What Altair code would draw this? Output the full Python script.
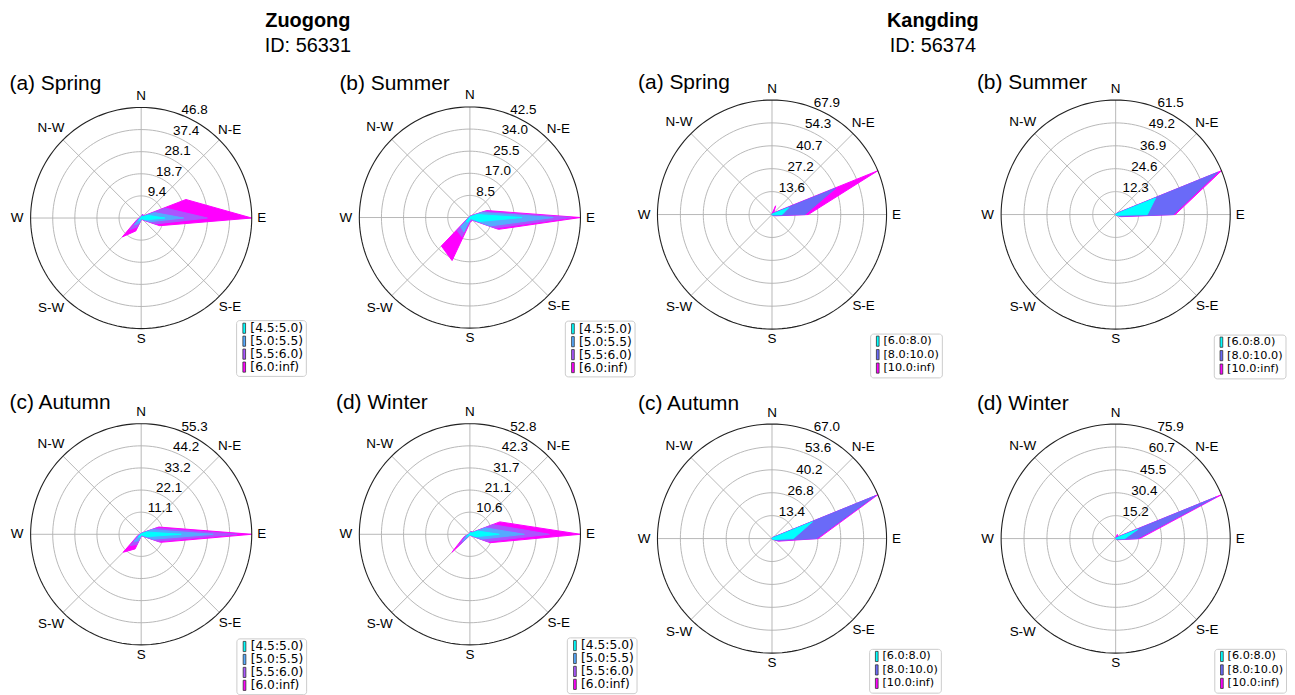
import math
import numpy as np
import pandas as pd
import altair as alt

FONT = "Liberation Sans"
LEGEND_FONT = "DejaVu Sans"

# ---------------- data ----------------
DIRS16 = ["N", "NNE", "NE", "ENE", "E", "ESE", "SE", "SSE",
          "S", "SSW", "SW", "WSW", "W", "WNW", "NW", "NNW"]
DIR_LABELS = ["N", "N-E", "E", "S-E", "S", "S-W", "W", "N-W"]
SEASONS = ["(a) Spring", "(b) Summer", "(c) Autumn", "(d) Winter"]
STATIONS = ["Zuogong", "Kangding"]
STATION_IDS = ["ID: 56331", "ID: 56374"]

ZG_BINS = ["[4.5:5.0)", "[5.0:5.5)", "[5.5:6.0)", "[6.0:inf)"]
KD_BINS = ["[6.0:8.0)", "[8.0:10.0)", "[10.0:inf)"]
ZG_COLORS = ["#00ffff", "#55aaff", "#aa55ff", "#ff00ff"]
KD_COLORS = ["#00ffff", "#6a6af8", "#ff00ff"]

# frequency (%) per speed bin, 16 directions N, NNE, ... NNW
ZG_SPRING = [
    [0.3, 0.8, 0.5, 3.0, 10.0, 2.0, 0.4, 0.2, 0.3, 1.0, 1.5, 0.5, 0.3, 0.1, 0.1, 0.1],
    [0.2, 0.4, 0.3, 3.0, 8.0, 2.0, 0.3, 0.1, 0.2, 1.5, 2.5, 0.5, 0.2, 0.1, 0.1, 0.1],
    [0.2, 0.3, 0.2, 5.0, 10.0, 2.5, 0.3, 0.1, 0.2, 1.5, 3.0, 0.5, 0.1, 0.1, 0.0, 0.1],
    [0.2, 0.3, 0.2, 9.5, 18.8, 2.0, 0.3, 0.1, 0.2, 1.9, 4.3, 0.5, 0.2, 0.0, 0.1, 0.0],
]
ZG_SUMMER = [
    [0.2, 0.3, 0.5, 3.0, 20.0, 4.0, 0.5, 0.5, 0.5, 2.0, 2.0, 0.3, 0.2, 0.1, 0.1, 0.1],
    [0.1, 0.2, 0.3, 2.0, 12.0, 4.5, 0.5, 0.5, 0.5, 4.0, 3.0, 0.2, 0.1, 0.1, 0.1, 0.1],
    [0.1, 0.1, 0.2, 1.0, 7.0, 2.0, 0.3, 0.3, 0.5, 2.0, 2.0, 0.2, 0.1, 0.0, 0.0, 0.1],
    [0.1, 0.1, 0.2, 1.0, 3.5, 1.4, 0.2, 0.2, 0.5, 9.9, 8.5, 0.3, 0.1, 0.0, 0.0, 0.0],
]
ZG_AUTUMN = [
    [0.2, 0.3, 0.5, 3.0, 20.0, 3.0, 0.5, 0.3, 0.3, 1.5, 2.0, 0.5, 0.3, 0.1, 0.1, 0.1],
    [0.1, 0.2, 0.3, 3.0, 16.0, 3.5, 0.5, 0.2, 0.3, 2.0, 3.0, 0.5, 0.2, 0.1, 0.1, 0.1],
    [0.1, 0.1, 0.2, 2.0, 12.0, 2.5, 0.3, 0.2, 0.2, 2.0, 3.0, 0.5, 0.2, 0.1, 0.0, 0.1],
    [0.1, 0.1, 0.2, 1.5, 7.3, 1.5, 0.2, 0.1, 0.2, 2.4, 4.7, 0.5, 0.1, 0.0, 0.1, 0.0],
]
ZG_WINTER = [
    [0.3, 1.0, 0.5, 4.0, 14.0, 3.0, 0.4, 0.2, 0.2, 0.3, 2.0, 1.0, 0.3, 0.1, 0.1, 0.1],
    [0.2, 0.3, 0.3, 4.0, 12.0, 3.0, 0.3, 0.1, 0.1, 0.2, 3.0, 1.0, 0.2, 0.1, 0.0, 0.1],
    [0.1, 0.2, 0.2, 4.0, 12.0, 3.0, 0.3, 0.1, 0.1, 0.3, 3.0, 0.5, 0.1, 0.0, 0.1, 0.0],
    [0.1, 0.2, 0.2, 3.5, 14.84, 1.5, 0.2, 0.1, 0.1, 0.2, 4.1, 0.5, 0.1, 0.1, 0.0, 0.1],
]
KD_SPRING = [
    [0.1, 0.3, 0.5, 10.7, 6.0, 0.5, 0.2, 0.1, 0.1, 0.1, 0.1, 0.1, 0.1, 0.1, 0.1, 0.1],
    [0.1, 0.5, 0.5, 30.3, 13.5, 1.0, 0.2, 0.1, 0.0, 0.0, 0.0, 0.0, 0.0, 0.0, 0.0, 0.0],
    [0.3, 4.8, 0.5, 26.9, 2.0, 0.5, 0.1, 0.0, 0.0, 0.0, 0.0, 0.0, 0.0, 0.0, 0.0, 0.0],
]
KD_SUMMER = [
    [0.1, 0.2, 0.5, 23.2, 17.0, 1.0, 0.2, 0.1, 0.1, 0.1, 0.1, 0.1, 0.1, 0.1, 0.1, 0.1],
    [0.1, 0.2, 0.5, 36.3, 14.0, 1.5, 0.2, 0.0, 0.0, 0.0, 0.0, 0.0, 0.0, 0.0, 0.0, 0.0],
    [0.1, 0.1, 0.2, 2.0, 1.0, 0.5, 0.1, 0.0, 0.0, 0.0, 0.0, 0.0, 0.0, 0.0, 0.0, 0.0],
]
KD_AUTUMN = [
    [0.1, 0.2, 0.5, 25.6, 12.5, 1.5, 0.3, 0.1, 0.1, 0.1, 0.1, 0.1, 0.1, 0.1, 0.1, 0.1],
    [0.1, 0.2, 0.5, 39.9, 13.5, 1.5, 0.2, 0.0, 0.0, 0.0, 0.0, 0.0, 0.0, 0.0, 0.0, 0.0],
    [0.0, 0.1, 0.2, 1.5, 1.0, 1.0, 0.1, 0.0, 0.0, 0.0, 0.0, 0.0, 0.0, 0.0, 0.0, 0.0],
]
KD_WINTER = [
    [0.1, 0.2, 0.5, 16.0, 6.0, 0.5, 0.2, 0.1, 0.1, 0.1, 0.1, 0.1, 0.1, 0.1, 0.1, 0.1],
    [0.1, 0.3, 0.5, 56.0, 8.5, 1.0, 0.1, 0.0, 0.0, 0.0, 0.0, 0.0, 0.0, 0.0, 0.0, 0.0],
    [0.2, 2.5, 0.5, 3.9, 1.5, 0.5, 0.1, 0.0, 0.0, 0.0, 0.0, 0.0, 0.0, 0.0, 0.0, 0.0],
]

# ---------------- style / layout ----------------
GRID = "#b0b0b0"
N_RINGS = 5
CIRCLE_STEPS = 144  # polyline resolution of the grid circles
LABEL_PAD = [11.5, 14.5, 10.0, 15.0, 10.0, 17.0, 13.5, 17.0]  # px outside the circle
PAGE = 8  # page margin
PATCH = "M-0.45,-1.7H0.45V1.7H-0.45Z"  # narrow legend patch


def panel(freqs, bins, colors, title, center, R, origin, size, legend_at, title_at,
          legend_font_size, legend_row_pad):
    cx, cy = center
    ox, oy = origin
    w, h = size
    nb = len(bins)

    rows = []
    cum = [0.0] * 16
    for b in range(nb):
        for d in range(16):
            cum[d] += freqs[b][d]
            rows.append({"d": d, "dir": DIRS16[d], "b": b, "bin": bins[b], "cum": cum[d]})
    poly = pd.DataFrame(rows)
    rmax = max(cum)
    poly["r"] = poly["cum"] / rmax

    xs = alt.Scale(domain=[-(cx - ox) / R, (ox + w - cx) / R], nice=False, zero=False)
    ys = alt.Scale(domain=[-(oy + h - cy) / R, (cy - oy) / R], nice=False, zero=False)

    def X(f):
        return alt.X(f, type="quantitative", scale=xs, axis=None)

    def Y(f):
        return alt.Y(f, type="quantitative", scale=ys, axis=None)

    # grid circles (ring index x step index)
    circ = pd.DataFrame(
        [{"ring": i, "k": k} for i in range(1, N_RINGS + 1) for k in range(CIRCLE_STEPS)]
    )
    circ_base = alt.Chart(circ).transform_calculate(
        cxp=f"(datum.ring/{N_RINGS})*sin(2*PI*datum.k/{CIRCLE_STEPS})",
        cyp=f"(datum.ring/{N_RINGS})*cos(2*PI*datum.k/{CIRCLE_STEPS})",
    )
    rings = circ_base.transform_filter(f"datum.ring < {N_RINGS}").mark_line(
        stroke=GRID, strokeWidth=0.9, interpolate="linear-closed"
    ).encode(x=X("cxp"), y=Y("cyp"), detail="ring:N", order=alt.Order("k:Q"))
    outer = circ_base.transform_filter(f"datum.ring == {N_RINGS}").mark_line(
        stroke="#222222", strokeWidth=1.1, interpolate="linear-closed"
    ).encode(x=X("cxp"), y=Y("cyp"), detail="ring:N", order=alt.Order("k:Q"))

    spokes = alt.Chart(pd.DataFrame({"a": list(range(8))})).transform_calculate(
        x0="0", y0="0", xe="sin(datum.a*PI/4)", ye="cos(datum.a*PI/4)"
    ).mark_rule(stroke=GRID, strokeWidth=0.9).encode(
        x=X("x0"), y=Y("y0"), x2="xe:Q", y2="ye:Q")

    leg = alt.Legend(
        title=None, orient="none", legendX=legend_at[0] - ox, legendY=legend_at[1] - oy,
        symbolType=PATCH, symbolSize=36,
        symbolStrokeColor="#333333", symbolStrokeWidth=0.8,
        labelFont=LEGEND_FONT, labelFontSize=legend_font_size, labelColor="black",
        labelOffset=0, rowPadding=legend_row_pad, padding=2, strokeColor="#cccccc",
        fillColor="white", cornerRadius=3, direction="vertical",
    )
    cscale = alt.Scale(domain=bins, range=colors)

    polys = []
    for b in reversed(range(nb)):
        polys.append(
            alt.Chart(poly).transform_filter(alt.datum.b == b).transform_calculate(
                px="datum.r*sin(datum.d*PI/8)", py="datum.r*cos(datum.d*PI/8)"
            ).mark_line(filled=True, stroke=colors[b], strokeWidth=1,
                        interpolate="linear-closed").encode(
                x=X("px"), y=Y("py"), order=alt.Order("d:Q"),
                color=alt.Color("bin:N", scale=cscale, legend=leg))
        )

    dl = pd.DataFrame({"t": DIR_LABELS, "a": list(range(8)), "pad": LABEL_PAD})
    dir_labels = alt.Chart(dl).transform_calculate(
        rr=f"1 + datum.pad/{R}",
        lx="datum.rr*sin(datum.a*PI/4)", ly="datum.rr*cos(datum.a*PI/4)"
    ).mark_text(font=FONT, fontSize=13.5, align="center", baseline="middle",
                color="black").encode(x=X("lx"), y=Y("ly"), text="t:N")

    rl = pd.DataFrame({"i": list(range(1, N_RINGS + 1))})
    rl["r"] = rl["i"] / N_RINGS
    rl["t"] = [f"{rmax * i / N_RINGS:.1f}" for i in rl["i"]]
    ring_labels = alt.Chart(rl).transform_calculate(
        lx="datum.r*sin(PI/8)", ly="datum.r*cos(PI/8)"
    ).mark_text(font=FONT, fontSize=13.5, align="left", baseline="alphabetic",
                dx=-2, dy=-1.5, color="black").encode(x=X("lx"), y=Y("ly"), text="t:N")

    ttl = alt.Chart(pd.DataFrame({"t": [title]})).mark_text(
        font=FONT, fontSize=21, align="left", baseline="alphabetic", color="black"
    ).encode(x=alt.value(title_at[0] - ox), y=alt.value(title_at[1] - oy), text="t:N")

    return alt.layer(rings, spokes, *polys, outer, dir_labels, ring_labels, ttl).properties(
        width=w, height=h)


# column / row boxes in page pixels
COLS = [(8, 318), (326, 314), (640, 322), (962, 318)]
ROWS = [(60, 316), (376, 311)]
HEADER_H = 52

ZG_CX = [141.7, 471.7]
KD_CX = [775.0, 1120.0]
ZG_LEG = (12.3, -2.7)
KD_LEG = (11.3, -1.5)

zg_a = panel(ZG_SPRING, ZG_BINS, ZG_COLORS, SEASONS[0], (ZG_CX[0], 217.5), 111,
             (COLS[0][0], ROWS[0][0]), (COLS[0][1], ROWS[0][1]), (237.0, 320.0), (9.5, 89.3), *ZG_LEG)
zg_b = panel(ZG_SUMMER, ZG_BINS, ZG_COLORS, SEASONS[1], (ZG_CX[1], 217.0), 111,
             (COLS[1][0], ROWS[0][0]), (COLS[1][1], ROWS[0][1]), (567.0, 320.5), (340.7, 89.0), *ZG_LEG)
kd_a = panel(KD_SPRING, KD_BINS, KD_COLORS, SEASONS[0], (KD_CX[0], 214.0), 115,
             (COLS[2][0], ROWS[0][0]), (COLS[2][1], ROWS[0][1]), (873.5, 333.5), (640.5, 88.3), *KD_LEG)
kd_b = panel(KD_SUMMER, KD_BINS, KD_COLORS, SEASONS[1], (KD_CX[1], 214.0), 115,
             (COLS[3][0], ROWS[0][0]), (COLS[3][1], ROWS[0][1]), (1218.5, 334.5), (980.7, 88.3), *KD_LEG)
zg_c = panel(ZG_AUTUMN, ZG_BINS, ZG_COLORS, SEASONS[2], (ZG_CX[0], 535.0), 111,
             (COLS[0][0], ROWS[1][0]), (COLS[0][1], ROWS[1][1]), (237.3, 639.5), (9.5, 409.3), *ZG_LEG)
zg_d = panel(ZG_WINTER, ZG_BINS, ZG_COLORS, SEASONS[3], (ZG_CX[1], 535.0), 111,
             (COLS[1][0], ROWS[1][0]), (COLS[1][1], ROWS[1][1]), (569.0, 638.5), (337.3, 409.3), *ZG_LEG)
kd_c = panel(KD_AUTUMN, KD_BINS, KD_COLORS, SEASONS[2], (KD_CX[0], 539.3), 115,
             (COLS[2][0], ROWS[1][0]), (COLS[2][1], ROWS[1][1]), (872.5, 650.0), (640.5, 410.7), *KD_LEG)
kd_d = panel(KD_WINTER, KD_BINS, KD_COLORS, SEASONS[3], (KD_CX[1], 539.3), 115,
             (COLS[3][0], ROWS[1][0]), (COLS[3][1], ROWS[1][1]), (1219.0, 650.0), (980.7, 410.7), *KD_LEG)


def header_cell(i, col, center_x):
    x0, w = COLS[col]
    df = pd.DataFrame({"name": [STATIONS[i]], "sid": [STATION_IDS[i]]})
    base = alt.Chart(df)
    name = base.mark_text(font=FONT, fontSize=20, fontWeight="bold", align="center",
                          baseline="middle", color="black").encode(
        x=alt.value(center_x - x0), y=alt.value(20 - PAGE), text="name:N")
    sid = base.mark_text(font=FONT, fontSize=20, align="center", baseline="middle",
                         color="black").encode(
        x=alt.value(center_x - x0), y=alt.value(45 - PAGE), text="sid:N")
    return alt.layer(name, sid).properties(width=w, height=HEADER_H)


def blank_cell(col):
    return alt.Chart(pd.DataFrame({"t": [" "]})).mark_text(
        baseline="middle", fontSize=10, opacity=0
    ).encode(text="t:N", x=alt.value(20), y=alt.value(HEADER_H / 2)
    ).properties(width=COLS[col][1], height=HEADER_H)


cells = [
    header_cell(0, 0, 309.0), blank_cell(1), header_cell(1, 2, 936.5), blank_cell(3),
    zg_a, zg_b, kd_a, kd_b,
    zg_c, zg_d, kd_c, kd_d,
]

chart = alt.concat(*cells, columns=4, spacing=0, bounds="flush", align="each").resolve_scale(
    color="independent"
).properties(padding=0).configure_view(strokeWidth=0)

chart.save("out.html", embed_options={"renderer": "svg", "actions": False})
